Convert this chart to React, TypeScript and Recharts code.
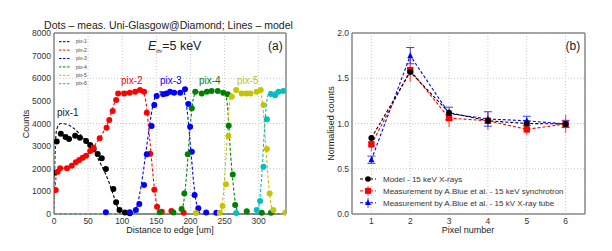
import {
  ComposedChart,
  LineChart,
  Line,
  Scatter,
  XAxis,
  YAxis,
  CartesianGrid,
  ReferenceLine,
  ErrorBar,
} from "recharts";

// ---------- panel (a): counts vs distance ----------
const distTicks = [0, 50, 100, 150, 200, 250, 300];
const countTicks = [0, 1000, 2000, 3000, 4000, 5000, 6000, 7000, 8000];

// measured dots
const pix1Meas = [
  { x: 0.5, y: 1825 }, { x: 4, y: 3200 }, { x: 10, y: 3550 }, { x: 17, y: 3400 },
  { x: 22, y: 3310 }, { x: 31, y: 3460 }, { x: 38, y: 3370 }, { x: 47, y: 3225 },
  { x: 53, y: 3050 }, { x: 58, y: 2860 }, { x: 64, y: 2650 }, { x: 70, y: 2460 },
  { x: 76, y: 1990 }, { x: 87, y: 1100 }, { x: 91, y: 515 }, { x: 96, y: 180 },
  { x: 104, y: 70 }, { x: 111, y: 30 },
];
const pix2Meas = [
  { x: 2.5, y: 1060 }, { x: 5.4, y: 1870 }, { x: 9, y: 2020 }, { x: 19, y: 2020 },
  { x: 26, y: 2135 }, { x: 32, y: 2285 }, { x: 37, y: 2385 }, { x: 42, y: 2490 },
  { x: 47, y: 2580 }, { x: 53, y: 2790 }, { x: 58, y: 2930 }, { x: 67, y: 3345 },
  { x: 77, y: 3815 }, { x: 81, y: 4150 }, { x: 86, y: 4550 }, { x: 91, y: 5040 },
  { x: 94, y: 5330 }, { x: 103, y: 5330 }, { x: 111, y: 5360 }, { x: 119, y: 5400 },
  { x: 126, y: 5480 }, { x: 132, y: 5400 }, { x: 136, y: 4480 }, { x: 141, y: 2660 },
  { x: 147, y: 1070 }, { x: 151, y: 325 }, { x: 158, y: 100 }, { x: 172, y: 130 },
  { x: 190, y: 50 },
];
const pix3Meas = [
  { x: 76, y: 75 }, { x: 111, y: 75 }, { x: 120, y: 180 }, { x: 125, y: 440 },
  { x: 132, y: 1280 }, { x: 136, y: 2640 }, { x: 143, y: 3890 }, { x: 147, y: 4815 },
  { x: 150.5, y: 5215 }, { x: 160, y: 5290 }, { x: 165, y: 5330 }, { x: 170, y: 5400 },
  { x: 176, y: 5360 }, { x: 185, y: 5360 }, { x: 192, y: 5510 }, { x: 197, y: 4860 },
  { x: 199.5, y: 3860 }, { x: 202, y: 2750 }, { x: 206, y: 840 }, { x: 211.5, y: 250 },
  { x: 223, y: 70 }, { x: 238, y: 50 },
];
const pix4Meas = [
  { x: 155, y: 75 }, { x: 175, y: 70 }, { x: 187, y: 220 }, { x: 191, y: 910 },
  { x: 196, y: 2640 }, { x: 202, y: 4670 }, { x: 207, y: 5400 }, { x: 216.5, y: 5330 },
  { x: 224, y: 5400 }, { x: 231, y: 5440 }, { x: 240, y: 5440 }, { x: 248, y: 5360 },
  { x: 254.5, y: 5290 }, { x: 256, y: 3900 }, { x: 262, y: 1750 }, { x: 265.5, y: 400 },
  { x: 282.5, y: 120 }, { x: 304.5, y: 50 }, { x: 318, y: 50 },
];
const pix5Meas = [
  { x: 208, y: 40 }, { x: 243, y: 50 }, { x: 247, y: 350 }, { x: 252, y: 1310 },
  { x: 255.6, y: 3450 }, { x: 260.5, y: 5185 }, { x: 267, y: 5480 }, { x: 275, y: 5330 },
  { x: 282, y: 5330 }, { x: 288, y: 5330 }, { x: 297, y: 5400 }, { x: 303, y: 5480 },
  { x: 307, y: 4815 }, { x: 312, y: 2870 }, { x: 316, y: 910 }, { x: 321.5, y: 180 },
  { x: 339, y: 50 },
];
const pix6Meas = [
  { x: 267, y: 40 }, { x: 297, y: 180 }, { x: 302, y: 570 }, { x: 307, y: 2090 },
  { x: 312, y: 4185 }, { x: 318, y: 5300 }, { x: 324, y: 5250 }, { x: 329, y: 5400 },
  { x: 336, y: 5440 },
];

// model curves
const pix1Model = [
  { x: 0, y: 0 }, { x: 1.5, y: 2600 }, { x: 4, y: 3750 }, { x: 10, y: 4000 },
  { x: 20, y: 3950 }, { x: 30, y: 3760 }, { x: 40, y: 3460 }, { x: 50, y: 3120 },
  { x: 60, y: 2680 }, { x: 70, y: 2120 }, { x: 80, y: 1450 }, { x: 88, y: 750 },
  { x: 94, y: 250 }, { x: 100, y: 60 }, { x: 110, y: 0 }, { x: 340, y: 0 },
];
const pix2Model = [
  { x: 0, y: 600 }, { x: 4, y: 1750 }, { x: 10, y: 2000 }, { x: 20, y: 2060 },
  { x: 30, y: 2240 }, { x: 40, y: 2440 }, { x: 50, y: 2660 }, { x: 60, y: 3050 },
  { x: 70, y: 3500 }, { x: 80, y: 4100 }, { x: 88, y: 4850 }, { x: 95, y: 5320 },
  { x: 102, y: 5400 }, { x: 130, y: 5400 }, { x: 135, y: 4900 }, { x: 140, y: 3400 },
  { x: 145, y: 1750 }, { x: 150, y: 500 }, { x: 156, y: 80 }, { x: 162, y: 0 },
  { x: 340, y: 0 },
];
const pix3Model = [
  { x: 0, y: 0 }, { x: 114, y: 0 }, { x: 120, y: 200 }, { x: 125, y: 800 },
  { x: 130, y: 1700 }, { x: 135, y: 2800 }, { x: 140, y: 3900 }, { x: 145, y: 4800 },
  { x: 150, y: 5300 }, { x: 156, y: 5400 }, { x: 190, y: 5400 }, { x: 195, y: 4600 },
  { x: 200, y: 3000 }, { x: 205, y: 1300 }, { x: 210, y: 300 }, { x: 216, y: 0 },
  { x: 340, y: 0 },
];
const pix4Model = [
  { x: 0, y: 0 }, { x: 186, y: 0 }, { x: 190, y: 500 }, { x: 195, y: 2000 },
  { x: 200, y: 4000 }, { x: 205, y: 5200 }, { x: 210, y: 5400 }, { x: 250, y: 5400 },
  { x: 255, y: 4500 }, { x: 258, y: 3000 }, { x: 262, y: 1500 }, { x: 267, y: 300 },
  { x: 272, y: 0 }, { x: 340, y: 0 },
];
const pix5Model = [
  { x: 0, y: 0 }, { x: 243, y: 0 }, { x: 248, y: 800 }, { x: 252, y: 2500 },
  { x: 256, y: 4500 }, { x: 260, y: 5300 }, { x: 265, y: 5400 }, { x: 302, y: 5400 },
  { x: 306, y: 4800 }, { x: 310, y: 3200 }, { x: 314, y: 1500 }, { x: 318, y: 400 },
  { x: 323, y: 0 }, { x: 340, y: 0 },
];
const pix6Model = [
  { x: 0, y: 0 }, { x: 296, y: 0 }, { x: 300, y: 300 }, { x: 304, y: 1500 },
  { x: 308, y: 3500 }, { x: 312, y: 5000 }, { x: 316, y: 5400 }, { x: 340, y: 5400 },
];

const pixNames = ["pix-1", "pix-2", "pix-3", "pix-4", "pix-5", "pix-6"];
const pixColors = ["#000000", "#ff0000", "#0000ff", "#008000", "#c4c400", "#00bfbf"];
const measSets = [pix1Meas, pix2Meas, pix3Meas, pix4Meas, pix5Meas, pix6Meas];
const modelSets = [pix1Model, pix2Model, pix3Model, pix4Model, pix5Model, pix6Model];

// ---------- panel (b): normalised counts per pixel ----------
const pixelTicks = [1, 2, 3, 4, 5, 6];
const normTicks = [0, 0.5, 1, 1.5, 2];
const modelNorm = [0.84, 1.57, 1.12, 1.03, 1.0, 0.995];
const synchNorm = [0.77, 1.59, 1.06, 1.03, 0.935, 0.995];
const synchErr = [0.08, 0.13, 0.1, 0.1, 0.06, 0.1];
const tubeNorm = [0.6, 1.75, 1.11, 1.05, 1.03, 0.995];
const tubeErr = [0.04, 0.09, 0.07, 0.08, 0.05, 0.04];

const legendB = [
  "Model - 15 keV X-rays",
  "Measurement by A.Blue et al. - 15 keV synchrotron",
  "Measurement by A.Blue et al. - 15 kV X-ray tube",
];

const tableB = pixelTicks.map((p, i) => ({
  p,
  model: modelNorm[i],
  synch: synchNorm[i],
  synchErr: synchErr[i],
  tube: tubeNorm[i],
  tubeErr: tubeErr[i],
}));

const font = "'Liberation Sans', Arial, sans-serif";
const axisGray = "#8a8a8a";
const tickStyle = { fill: "#333", fontSize: 8.5, fontFamily: font };

const Circle = (color: string, r: number) => (props: any) => (
  <circle key={props.key} cx={props.cx} cy={props.cy} r={r} fill={color} />
);
const Square = (props: any) => (
  <rect key={props.key} x={props.cx - 3.2} y={props.cy - 3.2} width={6.4} height={6.4} fill="#ff0000" />
);
const Triangle = (props: any) => (
  <polygon
    key={props.key}
    points={`${props.cx},${props.cy - 3.5} ${props.cx - 3},${props.cy + 2.5} ${props.cx + 3},${props.cy + 2.5}`}
    fill="#0000ff"
  />
);

const PanelA = () => (
  <ComposedChart width={300} height={251} margin={{ top: 33, right: 14, bottom: 17, left: 0 }}>
    <CartesianGrid stroke="#c8c8c8" strokeDasharray="1 2" />
    <XAxis
      type="number"
      dataKey="x"
      domain={[0, 340]}
      ticks={distTicks}
      allowDataOverflow
      height={20}
      tickSize={0}
      tickMargin={4}
      tick={tickStyle}
      axisLine={{ stroke: axisGray, strokeWidth: 1.5 }}
    />
    <YAxis
      type="number"
      dataKey="y"
      domain={[0, 8000]}
      ticks={countTicks}
      width={54}
      tickSize={0}
      tickMargin={3}
      tick={tickStyle}
      axisLine={{ stroke: axisGray, strokeWidth: 1.5 }}
    />
    <ReferenceLine x={340} stroke={axisGray} strokeWidth={1.5} />
    <ReferenceLine y={8000} stroke={axisGray} strokeWidth={1.5} />
    {modelSets.map((d, i) => (
      <Line
        key={"m" + i}
        data={d}
        dataKey="y"
        type="monotone"
        stroke={pixColors[i]}
        strokeWidth={1.1}
        strokeDasharray="3 2"
        dot={false}
        isAnimationActive={false}
      />
    ))}
    {measSets.map((d, i) => (
      <Scatter
        key={"s" + i}
        data={d}
        fill={pixColors[i]}
        shape={Circle(pixColors[i], 3)}
        isAnimationActive={false}
      />
    ))}
  </ComposedChart>
);

const PanelB = () => (
  <LineChart width={312} height={251} data={tableB} margin={{ top: 33, right: 27, bottom: 17, left: 0 }}>
    <CartesianGrid stroke="#c8c8c8" strokeDasharray="1 2" />
    <XAxis
      type="number"
      dataKey="p"
      domain={[0.5, 6.5]}
      ticks={pixelTicks}
      height={20}
      tickSize={0}
      tickMargin={4}
      tick={tickStyle}
      axisLine={{ stroke: axisGray, strokeWidth: 1.5 }}
    />
    <YAxis
      type="number"
      domain={[0, 2]}
      ticks={normTicks}
      tickFormatter={(v: number) => v.toFixed(1)}
      width={52}
      tickSize={0}
      tickMargin={3}
      tick={tickStyle}
      axisLine={{ stroke: axisGray, strokeWidth: 1.5 }}
    />
    <ReferenceLine x={6.5} stroke={axisGray} strokeWidth={1.5} />
    <ReferenceLine y={2} stroke={axisGray} strokeWidth={1.5} />
    <Line
      dataKey="synch"
      type="linear"
      stroke="#ff0000"
      strokeWidth={1.1}
      strokeDasharray="3 2"
      dot={Square}
      isAnimationActive={false}
    >
      <ErrorBar dataKey="synchErr" width={0} stroke="#ff5a5a" strokeWidth={1.3} direction="y" />
    </Line>
    <Line
      dataKey="tube"
      type="linear"
      stroke="#0000ff"
      strokeWidth={1.1}
      strokeDasharray="3 2"
      dot={Triangle}
      isAnimationActive={false}
    >
      <ErrorBar dataKey="tubeErr" width={4} stroke="#3a3aff" strokeWidth={1} direction="y" />
    </Line>
    <Line
      dataKey="model"
      type="linear"
      stroke="#000000"
      strokeWidth={1.1}
      strokeDasharray="3 2"
      dot={Circle("#000000", 3)}
      isAnimationActive={false}
    />
  </LineChart>
);

export default function App() {
  const legendBColors = ["#000000", "#ff0000", "#0000ff"];
  return (
    <div style={{ position: "absolute", left: 0, top: 0, width: 612, height: 251, background: "#fff", fontFamily: font }}>
      <div style={{ position: "absolute", left: 0, top: 0 }}>
        <PanelA />
      </div>
      <div style={{ position: "absolute", left: 300, top: 0 }}>
        <PanelB />
      </div>
      <svg width={612} height={251} style={{ position: "absolute", left: 0, top: 0, pointerEvents: "none" }}>
        <g fontFamily={font}>
          {/* panel a texts */}
          <text x={168.5} y={28.5} textAnchor="middle" fontSize={10.5} fill="#222">
            Dots – meas. Uni-Glasgow@Diamond; Lines – model
          </text>
          <text x={148} y={50} fontSize={12.5} fill="#222">
            <tspan fontStyle="italic">E</tspan>
            <tspan fontSize={5} fontStyle="italic" dy={3}>thr</tspan>
            <tspan dy={-3}>=5 keV</tspan>
          </text>
          <text x={268} y={49.5} fontSize={12} fill="#222">(a)</text>
          <text x={57} y={116} fontSize={10} fill="#222">pix-1</text>
          <text x={121} y={84} fontSize={10} fill="#ff0000">pix-2</text>
          <text x={160} y={84} fontSize={10} fill="#0000ff">pix-3</text>
          <text x={199} y={84} fontSize={10} fill="#008000">pix-4</text>
          <text x={237} y={84} fontSize={10} fill="#c4c400">pix-5</text>
          {pixNames.map((n, i) => (
            <g key={n}>
              <line x1={59} x2={70} y1={41.7 + i * 8.4} y2={41.7 + i * 8.4} stroke={pixColors[i]} strokeWidth={1} strokeDasharray="2.5 1.5" />
              <text x={76} y={43.4 + i * 8.4} fontSize={5} fill="#444">{n}</text>
            </g>
          ))}
          <text x={27} y={124} fontSize={9} fill="#222" textAnchor="middle" transform="rotate(-90 27 124)" dominantBaseline="middle">
            Counts
          </text>
          <text x={170} y={233} fontSize={9} fill="#222" textAnchor="middle">Distance to edge [um]</text>

          {/* panel b texts */}
          <text x={565.5} y={49.5} fontSize={12} fill="#222">(b)</text>
          <text x={332} y={123.5} fontSize={9} fill="#222" textAnchor="middle" transform="rotate(-90 332 123.5)" dominantBaseline="middle">
            Normalised counts
          </text>
          <text x={468} y={233} fontSize={9} fill="#222" textAnchor="middle">Pixel number</text>
          {legendB.map((t, i) => {
            const y = 179 + i * 11.9;
            return (
              <g key={t}>
                <line x1={360} x2={376} y1={y} y2={y} stroke={legendBColors[i]} strokeWidth={1} strokeDasharray="3 2" />
                {i === 0 && <circle cx={368} cy={y} r={2.8} fill="#000" />}
                {i === 1 && (
                  <>
                    <line x1={368} x2={368} y1={y - 5} y2={y + 5} stroke="#ff5a5a" strokeWidth={1.2} />
                    <rect x={365} y={y - 3} width={6} height={6} fill="#ff0000" />
                  </>
                )}
                {i === 2 && (
                  <>
                    <line x1={368} x2={368} y1={y - 5} y2={y + 5} stroke="#3a3aff" strokeWidth={1} />
                    <polygon points={`368,${y - 3.3} 365,${y + 2.3} 371,${y + 2.3}`} fill="#0000ff" />
                  </>
                )}
                <text x={383} y={y + 3} fontSize={8} fill="#333">{t}</text>
              </g>
            );
          })}
        </g>
      </svg>
    </div>
  );
}
